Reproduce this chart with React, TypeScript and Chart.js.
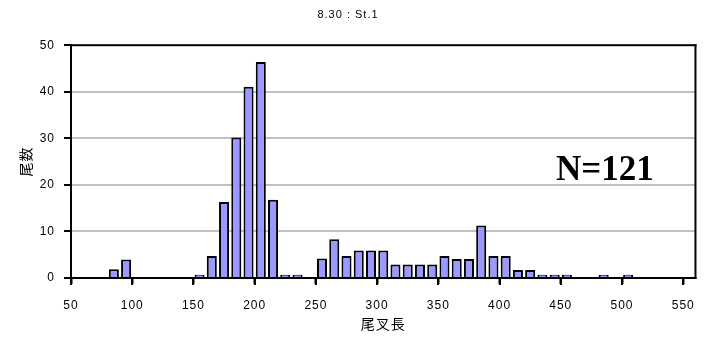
import React, { useEffect, useRef } from 'react';
import { Chart, registerables } from 'chart.js';

Chart.register(...registerables);

// Bin start values (fork length, lower edge of each 10-unit bin)
const binStarts = [80, 90, 150, 160, 170, 180, 190, 200, 210, 220, 230, 250, 260, 270, 280, 290, 300, 310, 320, 330, 340, 350, 360, 370, 380, 390, 400, 410, 420, 430, 440, 450, 480, 500];
// Counts for each bin
const counts = [1.9, 4.0, 0.7, 4.7, 16.3, 30.2, 41.1, 46.4, 16.8, 0.7, 0.7, 4.2, 8.3, 4.7, 5.9, 5.9, 5.9, 2.9, 2.9, 2.9, 2.9, 4.7, 4.1, 4.1, 11.3, 4.7, 4.7, 1.7, 1.7, 0.7, 0.7, 0.7, 0.7, 0.7];
const binWidth = 10;

const xTickValues = [50, 100, 150, 200, 250, 300, 350, 400, 450, 500, 550];
const yTickValues = [0, 10, 20, 30, 40, 50];
const xMin = 50;
const xMax = 560;
const yMin = 0;
const yMax = 50;
const yStep = 10;

const titleText = '8.30 : St.1';
const xTitle = '尾叉長';
const yTitle = '尾数';
const sampleLabel = 'N=121';
const sampleLabelPos = { x: 486, y: 23 };

export default function App() {
  const ref = useRef<HTMLCanvasElement>(null);

  useEffect(() => {
    const canvas = ref.current;
    if (!canvas) return;

    const framePlugin = {
      id: 'frameAndNote',
      beforeUpdate(chart: any) {
        chart.ctx.letterSpacing = '1px';
      },
      beforeDraw(chart: any) {
        chart.ctx.letterSpacing = '1px';
      },
      afterDraw(chart: any) {
        const ctx = chart.ctx;
        const a = chart.chartArea;
        const xs = chart.scales.x;
        const ys = chart.scales.y;
        ctx.save();
        ctx.fillStyle = '#000';
        // frame
        ctx.fillRect(a.left - 1, a.top - 1, a.right - a.left + 2, 2);
        ctx.fillRect(a.left - 1, a.bottom - 1, a.right - a.left + 2, 2);
        ctx.fillRect(a.left - 1, a.top - 1, 2, a.bottom - a.top + 2);
        ctx.fillRect(a.right - 1, a.top - 1, 2, a.bottom - a.top + 2);
        // outward tick marks
        for (const v of xTickValues) {
          const px = Math.round(xs.getPixelForValue(v));
          ctx.fillRect(px - 1, a.bottom, 2, 7);
        }
        for (const v of yTickValues) {
          const py = Math.round(ys.getPixelForValue(v));
          ctx.fillRect(a.left - 7, py - 1, 7, 2);
        }
        ctx.letterSpacing = '0px';
        ctx.font = 'bold 35px "Liberation Serif"';
        ctx.textAlign = 'center';
        ctx.textBaseline = 'middle';
        ctx.fillText(sampleLabel, xs.getPixelForValue(sampleLabelPos.x), ys.getPixelForValue(sampleLabelPos.y));
        ctx.restore();
      },
    };

    const chart = new Chart(canvas, {
      type: 'bar',
      data: {
        datasets: [
          {
            data: binStarts.map((b, i) => ({ x: b + binWidth / 2, y: counts[i] })),
            backgroundColor: '#9999ff',
            borderColor: '#000',
            borderWidth: 2,
            barPercentage: 0.82,
            categoryPercentage: 1,
          },
        ],
      },
      options: {
        animation: false,
        responsive: false,
        maintainAspectRatio: false,
        layout: { padding: { left: 0, right: 13, top: 0, bottom: 0 } },
        plugins: {
          legend: { display: false },
          tooltip: { enabled: false },
          title: {
            display: true,
            text: titleText,
            color: '#000',
            font: { family: '"Liberation Sans", Arial', size: 11, weight: 'normal' },
            padding: { top: 8, bottom: 24 },
          },
        },
        scales: {
          x: {
            type: 'linear',
            offset: false,
            min: xMin,
            max: xMax,
            afterBuildTicks: (s: any) => {
              s.ticks = xTickValues.map((v) => ({ value: v }));
            },
            afterFit: (s: any) => {
              s.height = 64;
            },
            grid: {
              offset: false,
              drawOnChartArea: false,
              drawTicks: true,
              tickLength: 6,
              tickWidth: 2,
              tickColor: '#000',
            },
            border: { display: false },
            ticks: {
              color: '#000',
              font: { family: '"Liberation Sans", Arial', size: 12 },
              padding: 14,
              maxRotation: 0,
              autoSkip: false,
            },
            title: {
              display: true,
              text: xTitle,
              color: '#000',
              font: { family: '"Noto Sans CJK JP"', size: 14 },
              padding: { top: 4, bottom: 9.6 },
            },
          },
          y: {
            min: yMin,
            max: yMax,
            afterFit: (s: any) => {
              s.width = 71;
            },
            ticks: {
              stepSize: yStep,
              color: '#000',
              font: { family: '"Liberation Sans", Arial', size: 12 },
              padding: 10,
            },
            grid: {
              color: (c: any) =>
                c.tick && (c.tick.value === yMin || c.tick.value === yMax) ? 'rgba(0,0,0,0)' : '#c0c0c0',
              lineWidth: 2,
              tickLength: 6,
              tickWidth: 2,
              tickColor: '#000',
            },
            border: { display: false },
            title: {
              display: true,
              text: yTitle,
              color: '#000',
              font: { family: '"Noto Sans CJK JP"', size: 14 },
              padding: { top: 17.6, bottom: 4 },
            },
          },
        },
      },
      plugins: [framePlugin],
    } as any);

    return () => chart.destroy();
  }, []);

  return (
    <div style={{ position: 'absolute', left: 0, top: 0, width: 709, height: 342, background: '#fff' }}>
      <canvas ref={ref} width={709} height={342} style={{ display: 'block' }} />
    </div>
  );
}
